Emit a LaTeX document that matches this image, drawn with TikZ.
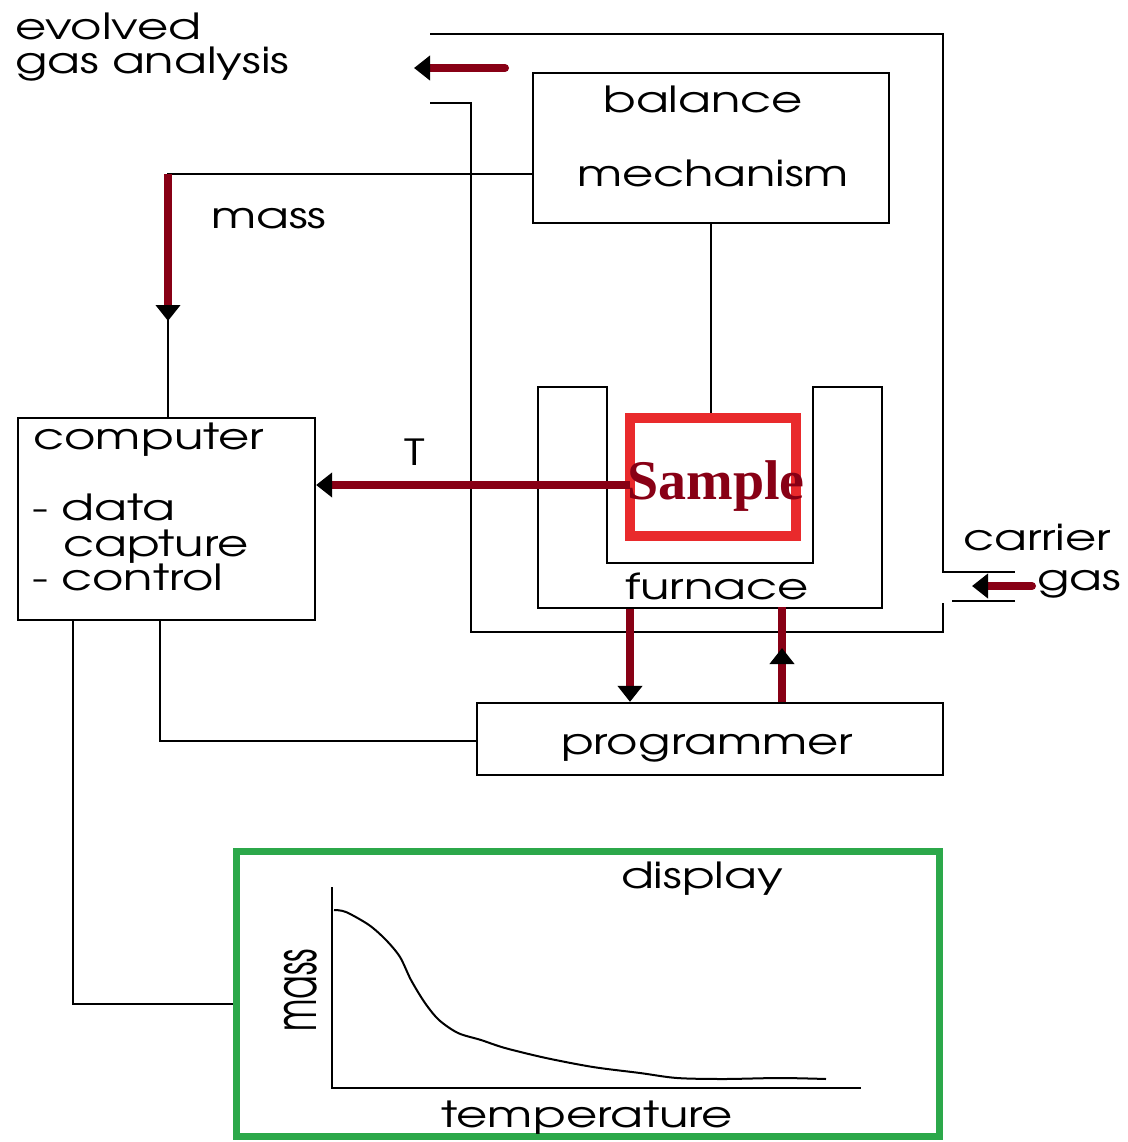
\documentclass[tikz,border=0pt]{standalone}
\usepackage{graphicx}
\usepackage{fontspec}
\setmainfont{TeX Gyre Adventor}
\newfontfamily\serifbold{Liberation Serif}
\usetikzlibrary{arrows.meta}
\definecolor{flowred}{HTML}{880015}
\definecolor{samplered}{HTML}{E92A2C}
\definecolor{dispgreen}{HTML}{2CA84A}
% wide, low lettering as in the scanned figure
\newcommand{\sq}[1]{\scalebox{1}[0.75]{#1}}

\begin{document}
\begin{tikzpicture}[x=1pt,y=-1pt,
		box/.style={draw, line width=2.2pt, inner sep=0pt},
		wire/.style={line width=2pt},
		flow/.style={line width=8pt, flowred},
		blacktip/.style={-{Triangle[color=black, length=16pt, width=24pt]}},
		lbl/.style={inner sep=0pt, font=\fontsize{48}{52}\selectfont}]
	\useasboundingbox (0,0) rectangle (1127,1142);
	
	% Gas path round the furnace
	\draw[wire] (430,34) -- (943,34) -- (943,572) -- (1015,572);
	\draw[wire] (1015,601) -- (952,601);
	\draw[wire] (943,603) -- (943,632) -- (471,632) -- (471,103) -- (430,103);
	
	% Evolved gas analysis
	\node[lbl, anchor=base west] (ega1) at (15,40) {\sq{evolved}};
	\node[lbl, anchor=base west] (ega2) at (15,74) {\sq{gas analysis}};
	\coordinate (egaout) at (505,68);
	\coordinate (egatip) at (414,68);
	\draw[flow, blacktip, line cap=round] (egaout) -- (egatip);
	
	% Balance mechanism
	\node[box, minimum width=356pt, minimum height=150pt] (balance) at (711,148) {};
	\node[lbl, anchor=base] (baltxt) at (703,113) {\sq{balance}};
	\node[lbl, anchor=base] (mechtxt) at (713,186) {\sq{mechanism}};
	
	% Mass signal to the computer
	\coordinate (masscorner) at (168,174);
	\coordinate (massin) at (168,321);
	\node[lbl, anchor=base west] (masslbl) at (211,228) {\sq{mass}};
	
	% Computer
	\node[box, minimum width=297pt, minimum height=202pt] (computer) at (166.5,519) {};
	\node[lbl, anchor=base west] (comptxt) at (33,449) {\sq{computer}};
	\node[lbl, anchor=base west] (datatxt) at (32,520) {\sq{- data}};
	\node[lbl, anchor=base west] (capttxt) at (63,556) {\sq{capture}};
	\node[lbl, anchor=base west] (ctrltxt) at (32,590) {\sq{- control}};
	
	\draw[wire] (masscorner -| balance.west) -- (masscorner) -- (masscorner |- computer.north);
	\draw[flow, blacktip] (masscorner) -- (massin);
	
	% Furnace
	\draw[wire] (538,387) -- (538,608) -- (882,608) -- (882,387) -- (813,387)
		-- (813,563) -- (607,563) -- (607,387) -- cycle;
	\node[lbl, anchor=base] (furnace) at (717,599) {\sq{furnace}};
	
	% Sample
	\node[draw=samplered, line width=10pt, minimum width=166pt, minimum height=118pt, inner sep=0pt] (sample) at (713,477) {};
	\draw[wire] (balance.south) -- (balance.south |- sample.north);
	
	% Temperature signal
	\coordinate (tsrc) at (630,485);
	\draw[flow, blacktip] (tsrc) -- (tsrc -| computer.east);
	\node[lbl, anchor=base] (tlbl) at (415,465) {\sq{T}};
	\node[anchor=base, inner sep=0pt, text=flowred, font=\serifbold\bfseries\fontsize{56}{60}\selectfont] (samplelbl) at (716,499) {Sample};
	
	% Programmer
	\node[box, minimum width=466pt, minimum height=72pt] (programmer) at (710,739) {};
	\node[lbl, anchor=base] (progtxt) at (707,754) {\sq{programmer}};
	\draw[wire] ([xshift=-6.5pt]computer.south) |- ([yshift=-2pt]programmer.west);
	
	\coordinate (fout) at (630,609);
	\draw[flow, blacktip] (fout) -- (fout |- programmer.north);
	\coordinate (fin) at (782,607);
	\coordinate (finmid) at (782,648);
	\draw[flow] (fin |- programmer.north) -- (fin);
	\draw[flow, blacktip] (fin |- programmer.north) -- (finmid);
	
	% Carrier gas
	\node[lbl, anchor=base west] (carrtxt) at (963,550) {\sq{carrier}};
	\node[lbl, anchor=base west] (gastxt) at (1037,590) {\sq{gas}};
	\coordinate (gasin) at (1032,586);
	\coordinate (gasend) at (972,586);
	\draw[flow, blacktip, line cap=round] (gasin) -- (gasend);
	
	% Display
	\node[draw=dispgreen, line width=7pt, minimum width=703pt, minimum height=285pt, inner sep=0pt] (display) at (587.5,993.5) {};
	\draw[wire] ([xshift=-93.5pt]computer.south) |- ([yshift=-10pt]display.west);
	\node[lbl, anchor=base] (disptxt) at (702,888) {\sq{display}};
	\draw[wire] (332,887) -- (332,1088) -- (861,1088);
	\draw[line width=2pt] plot[smooth] coordinates {(334,910) (346,912) (369,925) (386,940)
		(400,957) (411,980) (425,1003) (439,1020) (458,1033) (481,1040) (505,1048)
		(546,1058) (593,1067) (640,1073) (677,1078) (724,1079) (780,1078) (826,1079)};
	\node[lbl, rotate=90, anchor=base] (ylbl) at (316,990) {\scalebox{0.72}[1.2]{mass}};
	\node[lbl, anchor=base] (xlbl) at (587,1127) {\sq{temperature}};
\end{tikzpicture}
\end{document}
